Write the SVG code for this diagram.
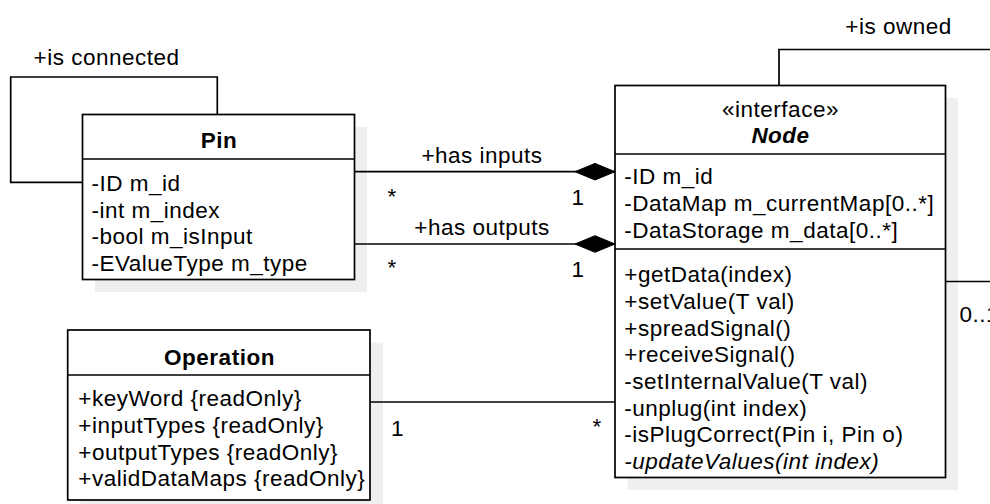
<svg xmlns="http://www.w3.org/2000/svg" width="990" height="504" viewBox="0 0 990 504">
  <defs>
    <style>
      text { font-family: "Liberation Sans", Arial, Helvetica, sans-serif; font-size: 22.5px; letter-spacing: 0.5px; fill: #000; }
      .title { font-weight: bold; text-anchor: middle; }
      .mid { text-anchor: middle; }
      .ital { font-style: italic; }
      .box { fill: #fff; stroke: #000; stroke-width: 1.7; }
      .shadow { fill: #efefef; stroke: none; }
      .div { stroke: #000; stroke-width: 1.7; fill: none; }
      .edge { stroke: #000; stroke-width: 1.7; fill: none; }
    </style>
    <marker id="diamond" markerUnits="userSpaceOnUse" markerWidth="44" markerHeight="20" viewBox="-42 -10 44 20" refX="0" refY="0" orient="auto">
      <path d="M0,0 L-20,-8.3 L-40,0 L-20,8.3 Z" fill="#000" stroke="#000" stroke-width="1"/>
    </marker>
  </defs>

  <!-- shadows behind the class boxes -->
  <rect class="shadow" x="95" y="127" width="272" height="165"/>
  <rect class="shadow" x="627.5" y="98" width="330.5" height="392"/>
  <rect class="shadow" x="80.5" y="342.5" width="302.5" height="170"/>

  <!-- connectors -->
  <g id="connectors">
    <polyline class="edge" points="217.3,114.5 217.3,77 10.7,77 10.7,182.3 82.5,182.3"/>
    <text class="mid" x="106.5" y="64.5">+is connected</text>

    <polyline class="edge" points="779,85.5 779,49.5 1010,49.5 1010,281.5 945.5,281.5"/>
    <text class="mid" x="898.5" y="33.5">+is owned</text>
    <text x="959.5" y="322">0..1</text>

    <line class="edge" x1="354.5" y1="171.7" x2="615" y2="171.7" marker-end="url(#diamond)"/>
    <text class="mid" x="482" y="163">+has inputs</text>
    <text x="387.5" y="203.5">*</text>
    <text x="571.5" y="205">1</text>

    <line class="edge" x1="354.5" y1="244" x2="615" y2="244" marker-end="url(#diamond)"/>
    <text class="mid" x="482" y="235">+has outputs</text>
    <text x="387.5" y="275">*</text>
    <text x="571.5" y="276.5">1</text>

    <line class="edge" x1="370" y1="402" x2="615" y2="402"/>
    <text x="391" y="435.5">1</text>
    <text x="592.5" y="434">*</text>
  </g>

  <!-- Pin class -->
  <g id="pin">
    <rect class="box" x="82.5" y="114.5" width="272" height="165"/>
    <line class="div" x1="82.5" y1="159" x2="354.5" y2="159"/>
    <text class="title" x="219" y="148">Pin</text>
    <text x="91.5" y="191">-ID m_id</text>
    <text x="91.5" y="217.7">-int m_index</text>
    <text x="91.5" y="244.3">-bool m_isInput</text>
    <text x="91.5" y="271">-EValueType m_type</text>
  </g>

  <!-- Node interface -->
  <g id="node">
    <rect class="box" x="615" y="85.5" width="330.5" height="392"/>
    <line class="div" x1="615" y1="154" x2="945.5" y2="154"/>
    <line class="div" x1="615" y1="249" x2="945.5" y2="249"/>
    <text class="mid" x="780.5" y="116.7">«interface»</text>
    <text class="title ital" x="780.5" y="143.3">Node</text>
    <text x="624.3" y="184.3">-ID m_id</text>
    <text x="624.3" y="211">-DataMap m_currentMap[0..*]</text>
    <text x="624.3" y="237.7">-DataStorage m_data[0..*]</text>
    <text x="624.3" y="282.3">+getData(index)</text>
    <text x="624.3" y="309">+setValue(T val)</text>
    <text x="624.3" y="335.7">+spreadSignal()</text>
    <text x="624.3" y="362.3">+receiveSignal()</text>
    <text x="624.3" y="389">-setInternalValue(T val)</text>
    <text x="624.3" y="415.7">-unplug(int index)</text>
    <text x="624.3" y="442.3">-isPlugCorrect(Pin i, Pin o)</text>
    <text class="ital" x="624.3" y="469">-updateValues(int index)</text>
  </g>

  <!-- Operation class -->
  <g id="operation">
    <rect class="box" x="67.7" y="330" width="302.3" height="170"/>
    <line class="div" x1="67.7" y1="375" x2="370" y2="375"/>
    <text class="title" x="219.5" y="365">Operation</text>
    <text x="78.3" y="406">+keyWord {readOnly}</text>
    <text x="78.3" y="433">+inputTypes {readOnly}</text>
    <text x="78.3" y="459.7">+outputTypes {readOnly}</text>
    <text x="78.3" y="486.3">+validDataMaps {readOnly}</text>
  </g>
</svg>
